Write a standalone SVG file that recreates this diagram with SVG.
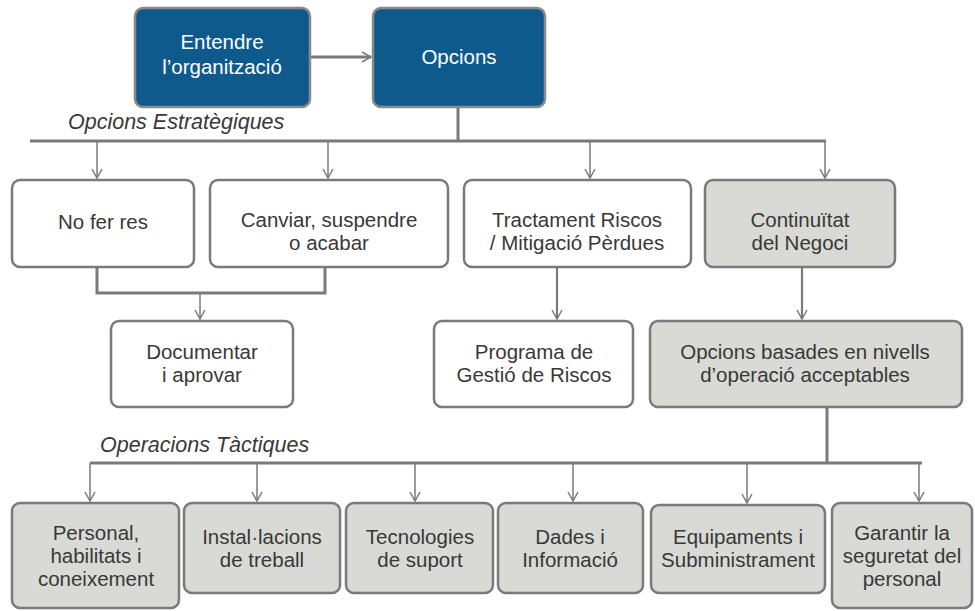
<svg xmlns="http://www.w3.org/2000/svg" width="975" height="611" viewBox="0 0 975 611">
<defs>
<style>
.box{fill:#fff;stroke:#7a7a7a;stroke-width:2.5}
.gray{fill:#d9dad5;stroke:#7a7a7a;stroke-width:2.5}
.blue{fill:#0f5a8c;stroke:#8a8a8a;stroke-width:2.5}
text{font-family:"Liberation Sans",Arial,sans-serif;font-size:20.5px;fill:#383838;text-anchor:middle}
.w{fill:#fff}
.it{font-style:italic;text-anchor:start;font-size:21.5px}
.c{fill:none;stroke:#7a7a7a;stroke-width:1.5}
.t{fill:none;stroke:#7a7a7a;stroke-width:3}
</style>
<marker id="ah" viewBox="0 0 12 12" refX="11" refY="6" markerWidth="12" markerHeight="12" markerUnits="userSpaceOnUse" orient="auto">
<polyline points="2,1 11,6 2,11" fill="none" stroke="#7a7a7a" stroke-width="1.5"/>
</marker>
</defs>
<g id="connectors">
<line class="t" x1="310" y1="57" x2="371" y2="57" marker-end="url(#ah)"/>
<line class="t" x1="458" y1="107" x2="458" y2="141"/>
<line class="t" x1="30" y1="141" x2="826" y2="141"/>
<line class="c" x1="97" y1="141" x2="97" y2="178" marker-end="url(#ah)"/>
<line class="c" x1="328" y1="141" x2="328" y2="178" marker-end="url(#ah)"/>
<line class="c" x1="590" y1="141" x2="590" y2="178" marker-end="url(#ah)"/>
<line class="c" x1="825" y1="141" x2="825" y2="178" marker-end="url(#ah)"/>
<polyline class="t" points="97,267 97,293 325,293 325,267"/>
<line class="c" x1="200" y1="293" x2="200" y2="319" marker-end="url(#ah)"/>
<line class="t" x1="557" y1="267" x2="557" y2="319" marker-end="url(#ah)" style="stroke-width:2.2"/>
<line class="t" x1="802" y1="267" x2="802" y2="319" marker-end="url(#ah)" style="stroke-width:2.2"/>
<line class="t" x1="827" y1="407" x2="827" y2="463"/>
<line class="t" x1="90" y1="463" x2="922" y2="463"/>
<line class="c" x1="90" y1="463" x2="90" y2="501" marker-end="url(#ah)"/>
<line class="c" x1="257" y1="463" x2="257" y2="501" marker-end="url(#ah)"/>
<line class="c" x1="415" y1="463" x2="415" y2="501" marker-end="url(#ah)"/>
<line class="c" x1="573" y1="463" x2="573" y2="501" marker-end="url(#ah)"/>
<line class="c" x1="747" y1="463" x2="747" y2="503" marker-end="url(#ah)"/>
<line class="c" x1="919" y1="463" x2="919" y2="501" marker-end="url(#ah)"/>
</g>
<text class="it" x="68" y="129">Opcions Estratègiques</text>
<text class="it" x="100" y="452">Operacions Tàctiques</text>
<g id="entendre"><rect class="blue" x="135" y="8" width="175" height="99" rx="8"/><text class="w"><tspan x="222" y="49">Entendre</tspan><tspan x="222" y="74">l’organització</tspan></text></g>
<g id="opcions"><rect class="blue" x="373" y="8" width="172" height="99" rx="8"/><text class="w" x="459" y="64">Opcions</text></g>
<g id="nofer"><rect class="box" x="12" y="180" width="182" height="87" rx="8"/><text x="103" y="229">No fer res</text></g>
<g id="canviar"><rect class="box" x="210" y="180" width="238" height="87" rx="8"/><text><tspan x="329" y="227">Canviar, suspendre</tspan><tspan x="329" y="250">o acabar</tspan></text></g>
<g id="tractament"><rect class="box" x="464" y="180" width="227" height="87" rx="8"/><text><tspan x="577" y="227">Tractament Riscos</tspan><tspan x="577" y="250">/ Mitigació Pèrdues</tspan></text></g>
<g id="continuitat"><rect class="gray" x="705" y="180" width="190" height="87" rx="8"/><text><tspan x="800" y="227">Continuïtat</tspan><tspan x="800" y="250">del Negoci</tspan></text></g>
<g id="documentar"><rect class="box" x="111" y="321" width="182" height="86" rx="8"/><text><tspan x="202" y="359">Documentar</tspan><tspan x="202" y="382">i aprovar</tspan></text></g>
<g id="programa"><rect class="box" x="434" y="321" width="199" height="86" rx="8"/><text><tspan x="534" y="359">Programa de</tspan><tspan x="534" y="382">Gestió de Riscos</tspan></text></g>
<g id="basades"><rect class="gray" x="650" y="321" width="312" height="86" rx="8"/><text><tspan x="805" y="359">Opcions basades en nivells</tspan><tspan x="805" y="382">d’operació acceptables</tspan></text></g>
<g id="personal"><rect class="gray" x="12" y="503" width="167" height="105" rx="8"/><text><tspan x="96" y="540">Personal,</tspan><tspan x="96" y="563">habilitats i</tspan><tspan x="96" y="586">coneixement</tspan></text></g>
<g id="installacions"><rect class="gray" x="184" y="503" width="156" height="90" rx="8"/><text><tspan x="262" y="544">Instal·lacions</tspan><tspan x="262" y="567">de treball</tspan></text></g>
<g id="tecnologies"><rect class="gray" x="346" y="503" width="147" height="90" rx="8"/><text><tspan x="420" y="544">Tecnologies</tspan><tspan x="420" y="567">de suport</tspan></text></g>
<g id="dades"><rect class="gray" x="498" y="503" width="145" height="90" rx="8"/><text><tspan x="570" y="544">Dades i</tspan><tspan x="570" y="567">Informació</tspan></text></g>
<g id="equipaments"><rect class="gray" x="651" y="505" width="174" height="88" rx="8"/><text><tspan x="738" y="544">Equipaments i</tspan><tspan x="738" y="567">Subministrament</tspan></text></g>
<g id="garantir"><rect class="gray" x="832" y="503" width="140" height="105" rx="8"/><text><tspan x="902" y="540">Garantir la</tspan><tspan x="902" y="563">seguretat del</tspan><tspan x="902" y="586">personal</tspan></text></g>
</svg>
